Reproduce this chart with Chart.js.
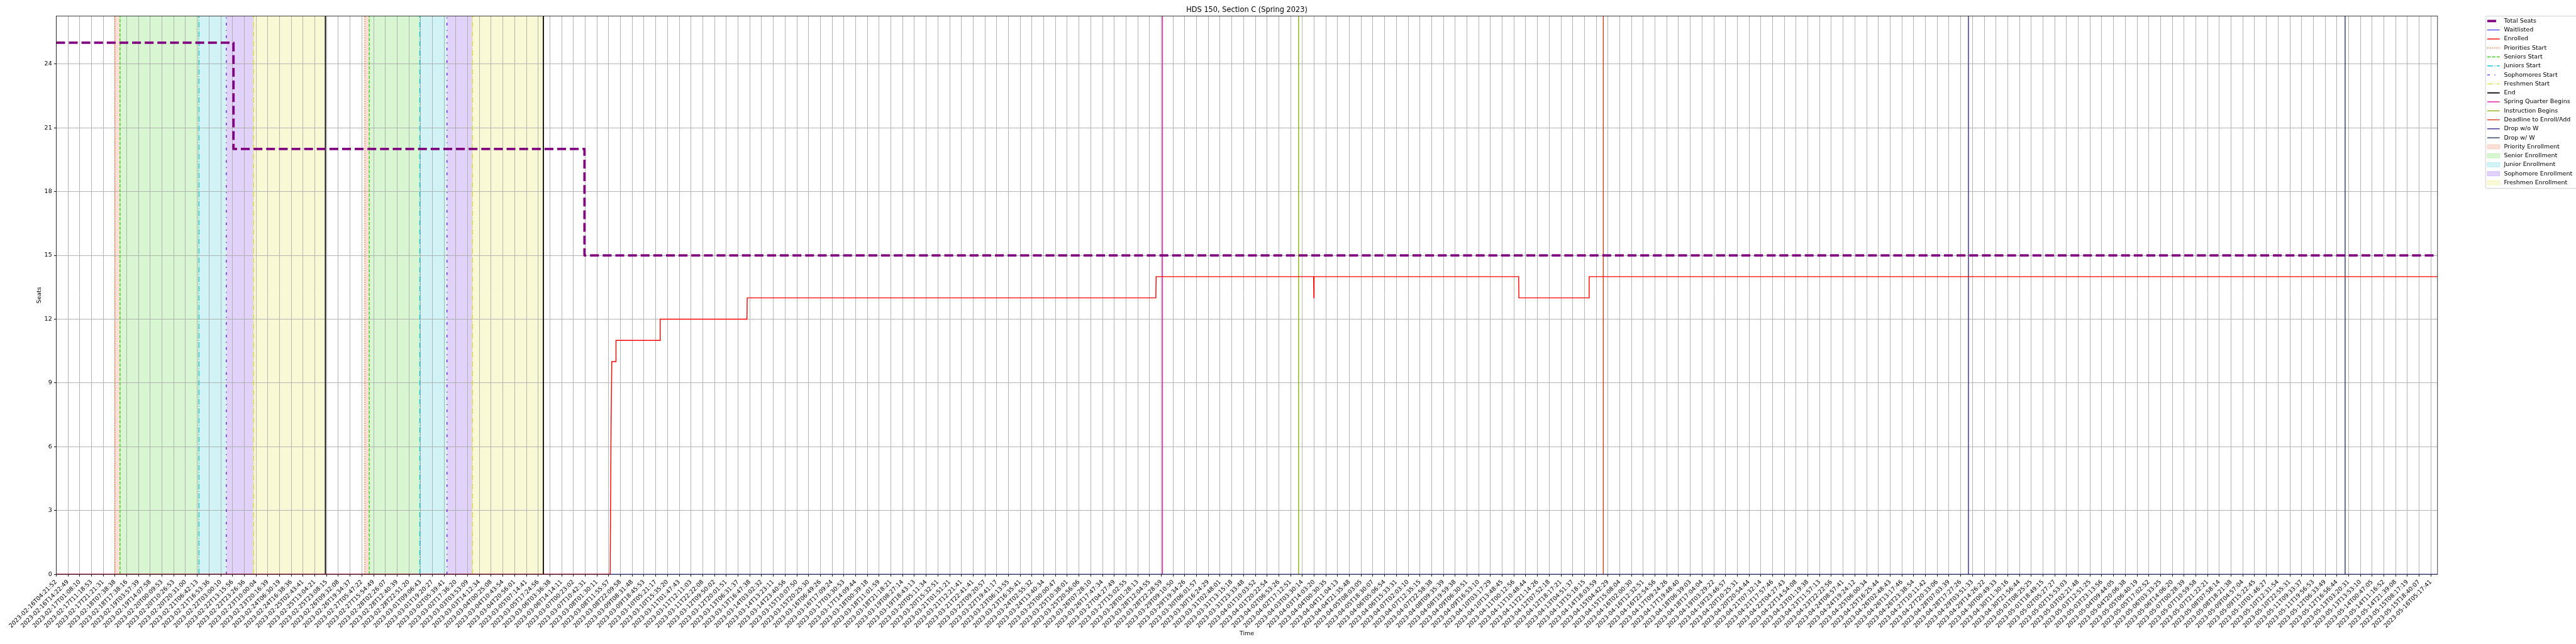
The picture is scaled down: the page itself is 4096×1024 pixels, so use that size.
<!DOCTYPE html>
<html>
<head>
<meta charset="utf-8">
<title>HDS 150, Section C (Spring 2023)</title>
<script src="https://cdn.jsdelivr.net/npm/chart.js@4.4.0/dist/chart.umd.min.js"></script>
<style>
  html, body { margin: 0; padding: 0; background: #ffffff; }
  canvas { display: block; }
</style>
</head>
<body>
<canvas id="seatChart" width="4096" height="1024"></canvas>
<script>
// reference was 6000x1500, page is 4096x1024
const S = 0.682;
const px = v => v * S;

// x ticks: one per sample index, labels as printed under the axis
const tickLabels = [
  '2023-02-16T04:21:52', '2023-02-16T14:22:49', '2023-02-17T01:08:10', '2023-02-17T11:18:53',
  '2023-02-17T21:21:31', '2023-02-18T07:38:38', '2023-02-18T17:38:16', '2023-02-19T03:57:39',
  '2023-02-19T14:07:58', '2023-02-20T00:09:53', '2023-02-20T10:26:53', '2023-02-20T20:31:00',
  '2023-02-21T06:42:13', '2023-02-21T16:53:36', '2023-02-22T03:00:10', '2023-02-22T13:15:56',
  '2023-02-22T23:26:36', '2023-02-23T10:00:04', '2023-02-23T20:16:39', '2023-02-24T06:30:19',
  '2023-02-24T16:38:36', '2023-02-25T02:43:41', '2023-02-25T13:04:21', '2023-02-25T23:08:15',
  '2023-02-26T09:32:08', '2023-02-26T19:34:37', '2023-02-27T05:47:22', '2023-02-27T15:54:49',
  '2023-02-28T02:26:07', '2023-02-28T12:40:39', '2023-02-28T22:51:20', '2023-03-01T09:06:43',
  '2023-03-01T19:20:27', '2023-03-02T05:39:41', '2023-03-02T17:36:20', '2023-03-03T03:53:09',
  '2023-03-03T14:12:34', '2023-03-04T00:25:08', '2023-03-04T10:43:54', '2023-03-04T20:56:01',
  '2023-03-05T07:14:41', '2023-03-05T17:24:56', '2023-03-06T03:36:38', '2023-03-06T14:14:11',
  '2023-03-07T00:23:02', '2023-03-07T10:42:31', '2023-03-08T01:30:11', '2023-03-08T11:55:57',
  '2023-03-08T22:09:58', '2023-03-09T08:31:48', '2023-03-09T18:45:53', '2023-03-10T05:21:17',
  '2023-03-10T15:35:20', '2023-03-11T01:47:43', '2023-03-11T12:11:03', '2023-03-11T22:22:08',
  '2023-03-12T09:50:02', '2023-03-12T20:01:51', '2023-03-13T06:31:37', '2023-03-13T16:47:38',
  '2023-03-14T03:02:32', '2023-03-14T13:23:11', '2023-03-14T23:40:56', '2023-03-15T10:07:50',
  '2023-03-15T20:25:30', '2023-03-16T06:49:26', '2023-03-16T17:09:24', '2023-03-17T03:30:53',
  '2023-03-17T14:09:44', '2023-03-18T00:39:18', '2023-03-18T11:01:59', '2023-03-18T21:18:21',
  '2023-03-19T08:27:14', '2023-03-19T18:43:13', '2023-03-20T05:11:34', '2023-03-20T15:32:51',
  '2023-03-21T01:51:21', '2023-03-21T12:21:41', '2023-03-21T22:41:41', '2023-03-22T09:20:57',
  '2023-03-22T19:41:17', '2023-03-23T06:13:55', '2023-03-23T16:35:41', '2023-03-24T02:55:32',
  '2023-03-24T13:40:34', '2023-03-25T00:00:47', '2023-03-25T10:38:01', '2023-03-25T20:56:06',
  '2023-03-26T07:28:10', '2023-03-26T17:47:34', '2023-03-27T04:27:49', '2023-03-27T15:02:55',
  '2023-03-28T01:28:13', '2023-03-28T12:04:55', '2023-03-28T22:28:59', '2023-03-29T09:10:50',
  '2023-03-29T19:34:26', '2023-03-30T06:01:57', '2023-03-30T16:24:29', '2023-03-31T02:48:01',
  '2023-03-31T13:15:18', '2023-03-31T23:33:48', '2023-04-01T10:03:52', '2023-04-01T20:22:54',
  '2023-04-02T06:53:26', '2023-04-02T17:12:51', '2023-04-03T03:30:14', '2023-04-03T14:03:20',
  '2023-04-04T00:30:35', '2023-04-04T11:04:13', '2023-04-04T21:35:48', '2023-04-05T08:03:05',
  '2023-04-05T18:30:07', '2023-04-06T05:06:54', '2023-04-06T15:33:31', '2023-04-07T02:03:10',
  '2023-04-07T12:35:15', '2023-04-07T22:58:38', '2023-04-08T09:35:39', '2023-04-08T19:59:38',
  '2023-04-09T06:30:51', '2023-04-09T16:53:10', '2023-04-10T03:17:29', '2023-04-10T13:48:45',
  '2023-04-11T00:12:56', '2023-04-11T10:48:44', '2023-04-11T21:14:26', '2023-04-12T07:52:18',
  '2023-04-12T18:17:21', '2023-04-13T04:51:37', '2023-04-13T15:18:15', '2023-04-14T18:03:59',
  '2023-04-15T04:42:29', '2023-04-15T15:08:04', '2023-04-16T02:00:30', '2023-04-16T12:32:51',
  '2023-04-16T22:54:56', '2023-04-17T09:24:26', '2023-04-17T19:48:40', '2023-04-18T06:39:03',
  '2023-04-18T17:04:04', '2023-04-19T03:29:22', '2023-04-19T23:46:57', '2023-04-20T10:25:31',
  '2023-04-20T20:54:44', '2023-04-21T07:32:14', '2023-04-21T17:57:46', '2023-04-22T04:27:43',
  '2023-04-22T14:54:08', '2023-04-23T01:19:38', '2023-04-23T11:57:13', '2023-04-23T22:22:56',
  '2023-04-24T08:57:41', '2023-04-24T19:24:12', '2023-04-25T06:00:34', '2023-04-25T16:25:44',
  '2023-04-26T02:48:43', '2023-04-26T13:17:46', '2023-04-26T23:38:54', '2023-04-27T10:11:42',
  '2023-04-27T20:33:06', '2023-04-28T07:03:39', '2023-04-28T17:27:26', '2023-04-29T03:51:33',
  '2023-04-29T14:26:22', '2023-04-30T00:49:33', '2023-04-30T11:30:16', '2023-04-30T21:56:44',
  '2023-05-01T08:25:25', '2023-05-01T18:49:15', '2023-05-02T05:27:27', '2023-05-02T15:53:03',
  '2023-05-03T02:21:48', '2023-05-03T12:51:25', '2023-05-03T23:13:56', '2023-05-04T09:44:05',
  '2023-05-04T20:06:38', '2023-05-05T06:40:19', '2023-05-05T17:02:52', '2023-05-06T03:33:25',
  '2023-05-06T14:06:20', '2023-05-07T00:28:39', '2023-05-07T10:59:58', '2023-05-07T21:22:21',
  '2023-05-08T07:58:14', '2023-05-08T18:21:38', '2023-05-09T04:57:04', '2023-05-09T15:22:45',
  '2023-05-10T01:46:27', '2023-05-10T12:31:54', '2023-05-10T22:55:31', '2023-05-11T09:33:37',
  '2023-05-11T19:56:53', '2023-05-12T06:33:49', '2023-05-12T16:56:44', '2023-05-13T03:20:31',
  '2023-05-13T13:53:10', '2023-05-14T00:47:05', '2023-05-14T11:16:52', '2023-05-14T21:39:08',
  '2023-05-15T08:17:19', '2023-05-15T18:40:07', '2023-05-16T05:17:41'
];

const yTicks = [0, 3, 6, 9, 12, 15, 18, 21, 24];

// series, x is position on the tick index axis
const totalSeatsX = [0, 15.08, 15.08, 44.94, 44.94, 202.56];
const totalSeatsY = [25, 25, 20, 20, 15, 15];

const waitlistX = [0, 202.56];
const waitlistY = [0, 0];

const enrolledX = [0, 47.12, 47.2, 47.26, 47.6, 47.62, 51.36, 51.38, 58.76, 58.78,
                   93.54, 93.56, 106.96, 106.98, 107.0, 124.4, 124.42, 130.38, 130.4, 202.56];
const enrolledY = [0, 0, 7, 10, 10, 11, 11, 12, 12, 13,
                   13, 14, 14, 13, 14, 14, 13, 13, 14, 14];

// enrollment pass markers (two passes)
const priorityStarts = [4.99, 26.25];
const seniorStarts = [5.43, 26.63];
const juniorStarts = [12.14, 30.93];
const sophomoreStarts = [14.47, 33.24];
const freshmenStarts = [16.8, 35.42];
const passEnds = [22.9, 41.44];

// quarter dates
const springBegins = [94.1];
const instructionBegins = [105.68];
const enrollDeadline = [131.6];
const dropNoW = [162.66];
const dropWithW = [194.7];

const yTop = 26.25;
const xEnd = 202.56;

function pairUp(xs, ys) {
  return xs.map((x, i) => ({ x: x, y: ys[i] }));
}

// vertical segments, split with null points
function vlines(xs) {
  const pts = [];
  xs.forEach((x, i) => {
    if (i) pts.push({ x: x, y: null });
    pts.push({ x: x, y: 0 }, { x: x, y: yTop });
  });
  return pts;
}

function spans(starts, ends) {
  const pts = [];
  starts.forEach((a, i) => {
    if (i) pts.push({ x: a, y: null });
    pts.push({ x: a, y: yTop }, { x: ends[i], y: yTop });
  });
  return pts;
}

function eventSet(label, xs, color, width, dash) {
  return {
    label: label, data: vlines(xs), borderColor: color, borderWidth: width,
    borderDash: dash || [], fill: false, order: 3
  };
}

function spanSet(label, starts, ends, rgb) {
  return {
    label: label, data: spans(starts, ends), backgroundColor: 'rgba(' + rgb + ',0.2)',
    borderColor: 'rgba(0,0,0,0)', borderWidth: 0, fill: 'origin', order: 4, legendPatch: true
  };
}

const lw = px(2.08);
const datasets = [
  { label: 'Total Seats', data: pairUp(totalSeatsX, totalSeatsY), borderColor: '#800080',
    borderWidth: px(5.56), borderDash: [px(20.6), px(8.9)], borderJoinStyle: 'round', fill: false, order: 0 },
  { label: 'Waitlisted', data: pairUp(waitlistX, waitlistY), borderColor: '#0000ff',
    borderWidth: px(1.39), fill: false, order: 2 },
  { label: 'Enrolled', data: pairUp(enrolledX, enrolledY), borderColor: '#ff0000',
    borderWidth: px(2.08), fill: false, order: 1 },
  eventSet('Priorities Start', priorityStarts, '#f0642d', lw, [px(2.08), px(3.4)]),
  eventSet('Seniors Start', seniorStarts, '#39d01a', lw, [px(7.7), px(3.3)]),
  eventSet('Juniors Start', juniorStarts, '#17c3d0', lw, [px(13.3), px(3.3), px(2.08), px(3.3)]),
  eventSet('Sophomores Start', sophomoreStarts, '#6b1fe0', lw, [px(6.2), px(10.4), px(2.08), px(10.4)]),
  eventSet('Freshmen Start', freshmenStarts, '#dfe034', lw, [px(13.3), px(3.3), px(2.08), px(3.3)]),
  eventSet('End', passEnds, '#000000', px(2.6)),
  eventSet('Spring Quarter Begins', springBegins, '#e0179a', lw),
  eventSet('Instruction Begins', instructionBegins, '#8db41c', lw),
  eventSet('Deadline to Enroll/Add', enrollDeadline, '#d2401a', lw),
  eventSet('Drop w/o W', dropNoW, '#3a2f8f', lw),
  eventSet('Drop w/ W', dropWithW, '#2f3b5c', lw),
  spanSet('Priority Enrollment', priorityStarts, seniorStarts, '240,100,45'),
  spanSet('Senior Enrollment', seniorStarts, juniorStarts, '57,208,26'),
  spanSet('Junior Enrollment', juniorStarts, sophomoreStarts, '23,195,208'),
  spanSet('Sophomore Enrollment', sophomoreStarts, freshmenStarts, '107,31,224'),
  spanSet('Freshmen Enrollment', freshmenStarts, passEnds, '223,224,52')
];
const firstSpanIndex = 14;

const FONT = '"DejaVu Sans", sans-serif';
Chart.defaults.font.family = FONT;
Chart.defaults.color = '#000000';

// grid goes over the shaded spans but under the lines
const gridOverSpans = {
  id: 'gridOverSpans',
  afterDatasetDraw(chart, args) {
    if (args.index === firstSpanIndex) {
      chart.scales.x.drawGrid(chart.chartArea);
      chart.scales.y.drawGrid(chart.chartArea);
    }
  }
};

const framePlugin = {
  id: 'framePlugin',
  afterDatasetsDraw(chart) {
    const a = chart.chartArea;
    const c = chart.ctx;
    c.save();
    c.strokeStyle = '#000000';
    c.lineWidth = px(1.11);
    c.strokeRect(a.left, a.top, a.right - a.left, a.bottom - a.top);
    c.restore();
  },
  afterDraw(chart) {
    const a = chart.chartArea;
    const c = chart.ctx;
    c.save();
    // title
    c.fillStyle = '#000000';
    c.font = px(16.7) + 'px ' + FONT;
    c.textAlign = 'center';
    c.textBaseline = 'middle';
    c.fillText('HDS 150, Section C (Spring 2023)', (a.left + a.right) / 2, px(23.3));

    // legend frame
    const lx = px(5795), ly = px(37.7), lh = px(439 - 37.7), r = px(2.8);
    c.beginPath();
    c.moveTo(lx + r, ly);
    c.lineTo(chart.width + 10, ly);
    c.lineTo(chart.width + 10, ly + lh);
    c.lineTo(lx + r, ly + lh);
    c.arcTo(lx, ly + lh, lx, ly + lh - r, r);
    c.lineTo(lx, ly + r);
    c.arcTo(lx, ly, lx + r, ly, r);
    c.closePath();
    c.fillStyle = 'rgba(255,255,255,0.8)';
    c.fill();
    c.strokeStyle = '#cccccc';
    c.lineWidth = px(1.39);
    c.stroke();

    chart.data.datasets.forEach((ds, i) => {
      const yc = px(49) + i * px(20.94);
      const x0 = px(5799), x1 = px(5828);
      if (ds.legendPatch) {
        c.fillStyle = ds.backgroundColor;
        c.fillRect(x0, yc - px(5.15), x1 - x0, px(10.3));
        c.strokeStyle = ds.backgroundColor;
        c.lineWidth = px(1.39);
        c.strokeRect(x0, yc - px(5.15), x1 - x0, px(10.3));
      } else {
        c.strokeStyle = ds.borderColor;
        c.lineWidth = ds.borderWidth;
        c.lineCap = 'butt';
        c.setLineDash(ds.borderDash || []);
        c.beginPath();
        c.moveTo(x0, yc);
        c.lineTo(x1, yc);
        c.stroke();
        c.setLineDash([]);
      }
      c.fillStyle = '#000000';
      c.font = px(13.9) + 'px ' + FONT;
      c.textAlign = 'left';
      c.textBaseline = 'middle';
      c.fillText(ds.label, px(5838), yc);
    });
    c.restore();
  }
};

const tickFont = { size: px(13.9) };
const gridOpts = {
  color: '#b0b0b0', lineWidth: px(1.11), tickColor: '#000000',
  tickLength: px(4.9), tickWidth: px(1.11)
};

new Chart(document.getElementById('seatChart'), {
  type: 'line',
  data: { datasets: datasets },
  options: {
    responsive: false,
    animation: false,
    devicePixelRatio: 1,
    events: [],
    layout: { padding: { left: 0, top: px(37.6), right: 4096 - px(5683), bottom: 0 } },
    elements: { point: { radius: 0 }, line: { tension: 0 } },
    plugins: { legend: { display: false }, tooltip: { enabled: false }, title: { display: false } },
    scales: {
      x: {
        type: 'linear', min: 0, max: xEnd,
        afterBuildTicks: axis => { axis.ticks = tickLabels.map((t, i) => ({ value: i })); },
        afterFit: axis => { axis.height = 1024 - px(1339); },
        ticks: {
          autoSkip: false, minRotation: 45, maxRotation: 45, padding: px(4.9),
          font: tickFont, color: '#000000', callback: v => tickLabels[v]
        },
        grid: gridOpts,
        border: { display: false },
        title: { display: true, text: 'Time', font: tickFont, color: '#000000', padding: { top: 0, bottom: 11 } }
      },
      y: {
        type: 'linear', min: 0, max: yTop,
        afterBuildTicks: axis => { axis.ticks = yTicks.map(v => ({ value: v })); },
        afterFit: axis => { axis.width = px(131); },
        ticks: { padding: px(4.9), font: tickFont, color: '#000000' },
        grid: gridOpts,
        border: { display: false },
        title: { display: true, text: 'Seats', font: tickFont, color: '#000000', padding: { top: 57, bottom: 0 } }
      }
    }
  },
  plugins: [gridOverSpans, framePlugin]
});
</script>
</body>
</html>
